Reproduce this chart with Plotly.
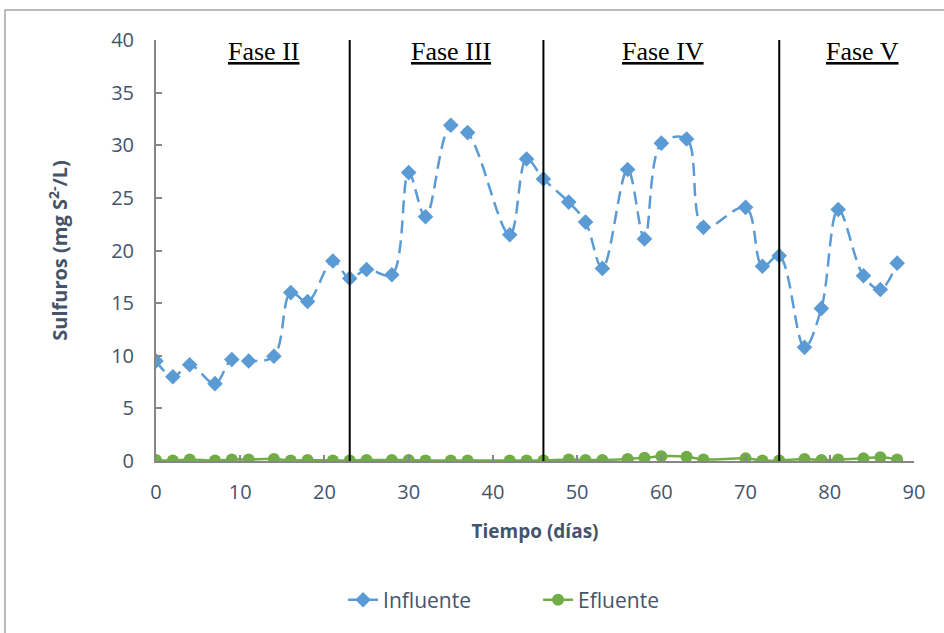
import plotly.graph_objects as go

# Days of operation
dias = [0, 2, 4, 7, 9, 11, 14, 16, 18, 21, 23, 25, 28, 30, 32, 35, 37, 42, 44,
        46, 49, 51, 53, 56, 58, 60, 63, 65, 70, 72, 74, 77, 79, 81, 84, 86, 88]

# Sulfide concentration (mg S2-/L)
influente = [9.5, 8.0, 9.15, 7.35, 9.65, 9.5, 9.95, 16.0, 15.15, 19.0, 17.35, 18.2,
             17.7, 27.4, 23.2, 31.9, 31.2, 21.5, 28.7, 26.8, 24.6, 22.7, 18.3, 27.7,
             21.1, 30.2, 30.6, 22.2, 24.1, 18.5, 19.5, 10.8, 14.5, 23.9, 17.6, 16.3, 18.8]
efluente = [0.1, 0.05, 0.15, 0.05, 0.15, 0.15, 0.2, 0.05, 0.1, 0.05, 0.05, 0.1,
            0.1, 0.1, 0.05, 0.05, 0.05, 0.05, 0.05, 0.05, 0.15, 0.1, 0.1, 0.2,
            0.3, 0.45, 0.4, 0.15, 0.25, 0.05, 0.05, 0.2, 0.1, 0.15, 0.25, 0.35, 0.15]

# Phase boundaries and labels
limites_fase = [23, 46, 74]
fases = ["Fase II", "Fase III", "Fase IV", "Fase V"]
pos_fases = [12.8, 35.0, 60.2, 83.9]

texto = "#44546A"
eje = "#868686"

fig = go.Figure()
fig.add_trace(go.Scatter(
    x=dias, y=influente, name="Influente", mode="lines+markers",
    line=dict(color="#5B9BD5", width=2.5, dash="13px,7px", shape="spline", smoothing=1.0),
    marker=dict(symbol="diamond", size=12, color="#5B9BD5"),
))
fig.add_trace(go.Scatter(
    x=dias, y=efluente, name="Efluente", mode="lines+markers",
    line=dict(color="#70AD47", width=2.5, shape="spline", smoothing=1.0),
    marker=dict(symbol="circle", size=12, color="#70AD47"),
))

for xb in limites_fase:
    fig.add_shape(type="line", xref="x", yref="y", x0=xb, x1=xb, y0=0, y1=40,
                  line=dict(color="black", width=2))

for nombre, xp in zip(fases, pos_fases):
    fig.add_annotation(x=xp, y=38.9, xref="x", yref="y", text=f"<u>{nombre}</u>",
                       showarrow=False,
                       font=dict(family="Liberation Serif", size=26, color="black"))

# Outer chart frame
fig.add_shape(type="rect", xref="paper", yref="paper",
              x0=-0.1992, x1=1.2, y0=-0.6, y1=1.0713,
              line=dict(color="#A6A6A6", width=1.5), layer="below")

fig.update_layout(
    width=944, height=633,
    margin=dict(l=156, r=30, t=40, b=172),
    plot_bgcolor="white", paper_bgcolor="white",
    font=dict(family="Open Sans", color=texto, size=18),
    showlegend=True,
    legend=dict(orientation="h", xref="container", yref="container",
                x=0.57, y=0.052, xanchor="center", yanchor="middle",
                font=dict(size=21, color=texto), entrywidth=150),
    xaxis=dict(range=[0, 90], dtick=10, showgrid=False, zeroline=False,
               showline=True, linecolor=eje, linewidth=2, automargin=False,
               ticks="inside", ticklen=6, tickcolor=eje, tickwidth=1.5,
               ticklabelstandoff=12,
               tickfont=dict(size=20, color=texto),
               title=dict(text="<b>Tiempo (días)</b>", font=dict(size=19, color=texto),
                          standoff=21)),
    yaxis=dict(range=[0, 40], dtick=5, showgrid=False, zeroline=False,
               showline=True, linecolor=eje, linewidth=2, automargin=False,
               ticks="inside", ticklen=6, tickcolor=eje, tickwidth=1.5,
               ticklabelstandoff=16,
               tickfont=dict(size=20, color=texto),
               title=dict(text="<b>Sulfuros (mg S<sup>2-</sup>/L)</b>",
                          font=dict(size=20, color=texto), standoff=38)),
)

fig.write_html("out.html")
